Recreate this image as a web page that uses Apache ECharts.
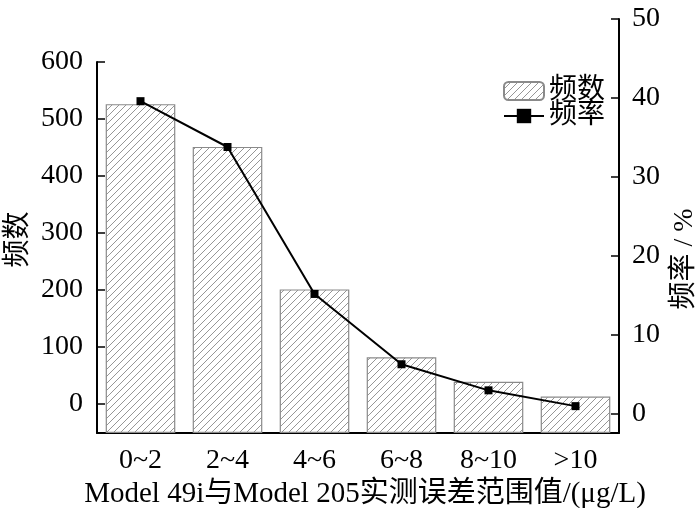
<!DOCTYPE html>
<html>
<head>
<meta charset="utf-8">
<script src="https://cdn.jsdelivr.net/npm/echarts@6/dist/echarts.min.js"></script>
<style>
html,body{margin:0;padding:0;background:#fff;}
#chart{width:700px;height:508px;}
</style>
</head>
<body>
<div id="chart"></div>
<script>
var categories = ['0~2', '2~4', '4~6', '6~8', '8~10', '>10'];
var counts = [526, 451, 201, 82, 39, 13];
var rates = [39.6, 33.8, 15.2, 6.3, 3.0, 1.0];
var countTicks = [0, 100, 200, 300, 400, 500, 600];
var rateTicks = [0, 10, 20, 30, 40, 50];

var FONT = "'Liberation Serif', 'Times New Roman', 'Noto Sans CJK SC', serif";

function makeHatch() {
  var c = document.createElement('canvas');
  var s = 7;
  c.width = s; c.height = s;
  var g = c.getContext('2d');
  g.fillStyle = '#ffffff';
  g.fillRect(0, 0, s, s);
  g.strokeStyle = '#8a8a8a';
  g.lineWidth = 0.9;
  g.beginPath();
  g.moveTo(-1, s + 1); g.lineTo(s + 1, -1);
  g.moveTo(-1, 1); g.lineTo(1, -1);
  g.moveTo(s - 1, s + 1); g.lineTo(s + 1, s - 1);
  g.stroke();
  return c;
}

var chart = echarts.init(document.getElementById('chart'), null, {renderer: 'canvas'});
var gridL = 97, gridR = 81, gridB = 75;
var option = {
  backgroundColor: '#ffffff',
  animation: false,
  textStyle: {fontFamily: FONT, color: '#000'},
  grid: [
    {left: gridL, right: gridR, top: 62, bottom: gridB, outerBoundsMode: 'none', containLabel: false},
    {left: gridL, right: gridR, top: 19, bottom: gridB, outerBoundsMode: 'none', containLabel: false}
  ],
  legend: {
    orient: 'vertical',
    left: 503,
    top: 77,
    padding: 0,
    itemWidth: 40,
    itemHeight: 18,
    itemGap: -3,
    textStyle: {fontFamily: FONT, fontSize: 28, color: '#000', lineHeight: 24},
    data: ['频数', '频率']
  },
  xAxis: [
    {
      type: 'category', gridIndex: 0, data: categories,
      axisLine: {onZero: false, lineStyle: {color: '#000', width: 2}},
      axisTick: {inside: true, length: 8, alignWithLabel: true, lineStyle: {color: '#000', width: 1.5}},
      axisLabel: {fontFamily: FONT, fontSize: 28, color: '#000', margin: 14},
      name: 'Model 49i与Model 205实测误差范围值/(μg/L)',
      nameLocation: 'middle',
      nameGap: 40,
      nameTextStyle: {fontFamily: FONT, fontSize: 29, color: '#000', padding: [0, 0, 0, 14]}
    },
    {
      type: 'category', gridIndex: 1, data: categories,
      show: false
    }
  ],
  yAxis: [
    {
      type: 'value', gridIndex: 0, position: 'left',
      min: -51, max: 600, startValue: -51,
      splitLine: {show: false},
      axisLine: {show: true, lineStyle: {color: '#000', width: 2}},
      axisTick: {show: true, inside: true, length: 8, customValues: countTicks, lineStyle: {color: '#000', width: 1.5}},
      axisLabel: {fontFamily: FONT, fontSize: 28, color: '#000', margin: 14, customValues: countTicks},
      name: '频数',
      nameLocation: 'middle',
      nameGap: 64,
      nameMoveOverlap: false,
      nameRotate: 90,
      nameTextStyle: {fontFamily: FONT, fontSize: 28, color: '#000', padding: [0, 0, 0, 16]}
    },
    {
      type: 'value', gridIndex: 1, position: 'right',
      min: -2.4, max: 50,
      splitLine: {show: false},
      axisLine: {show: true, lineStyle: {color: '#000', width: 2}},
      axisTick: {show: true, inside: true, length: 8, customValues: rateTicks, lineStyle: {color: '#000', width: 1.5}},
      axisLabel: {fontFamily: FONT, fontSize: 28, color: '#000', margin: 13, customValues: rateTicks},
      name: '频率 / %',
      nameLocation: 'middle',
      nameGap: 50,
      nameRotate: 90,
      nameTextStyle: {fontFamily: FONT, fontSize: 28, color: '#000', padding: [0, 66, 0, 0]}
    }
  ],
  series: [
    {
      name: '频数', type: 'bar', xAxisIndex: 0, yAxisIndex: 0,
      data: counts,
      barWidth: '80%',
      itemStyle: {
        color: {image: makeHatch(), repeat: 'repeat'},
        borderColor: '#8a8a8a',
        borderWidth: 1.2
      },
      z: 2
    },
    {
      name: '频率', type: 'line', xAxisIndex: 1, yAxisIndex: 1,
      data: rates,
      symbol: 'rect', symbolSize: 8,
      itemStyle: {color: '#000'},
      lineStyle: {color: '#000', width: 2},
      z: 5
    }
  ]
};
chart.setOption(option);
</script>
</body>
</html>
